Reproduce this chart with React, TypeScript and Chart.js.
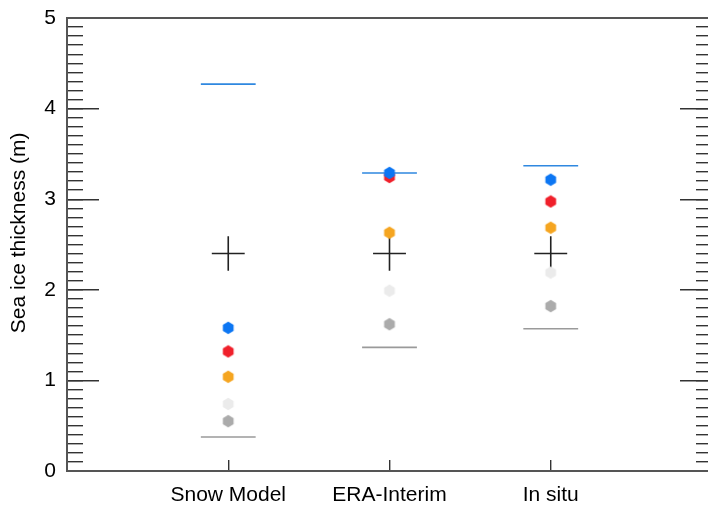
import React, { useEffect, useRef } from "react";
import { Chart, registerables } from "chart.js";

Chart.register(...registerables);

// ---- data ----
const categories = ["Snow Model", "ERA-Interim", "In situ"];
const categoryPositions = [1, 2, 3];
const blueValues = [1.58, 3.29, 3.215];
const redValues = [1.32, 3.245, 2.975];
const orangeValues = [1.04, 2.63, 2.685];
const lightGreyValues = [0.74, 1.99, 2.19];
const greyValues = [0.55, 1.62, 1.82];
const maxValues = [4.27, 3.29, 3.37];
const minValues = [0.375, 1.365, 1.57];
const meanValues = [2.4, 2.4, 2.4];
const meanSpread = [0.19, 0.19, 0.19];
const yMajorTicks = [0, 1, 2, 3, 4, 5];
const yTitle = "Sea ice thickness (m)";

const FONT = "'Liberation Sans', Arial, Helvetica, sans-serif";
const CANVAS_W = 740;
const CANVAS_H = 508;

function hexagon(color: string): HTMLCanvasElement {
  const c = document.createElement("canvas");
  c.width = 14;
  c.height = 14;
  const ctx = c.getContext("2d")!;
  ctx.fillStyle = color;
  ctx.beginPath();
  for (let k = 0; k < 6; k++) {
    const a = -Math.PI / 2 + (k * Math.PI) / 3;
    const px = 7 + 6.2 * Math.cos(a);
    const py = 7 + 6.2 * Math.sin(a);
    if (k === 0) ctx.moveTo(px, py);
    else ctx.lineTo(px, py);
  }
  ctx.closePath();
  ctx.fill();
  return c;
}

function pts(values: number[]) {
  return values.map((v, i) => ({ x: categoryPositions[i], y: v }));
}

function hSegments(values: number[], half: number) {
  const out: any[] = [];
  values.forEach((v, i) => {
    const c = categoryPositions[i];
    out.push({ x: c - half, y: v }, { x: c + half, y: v }, { x: c + half, y: null });
  });
  return out;
}

function vSegments(values: number[], spread: number[]) {
  const out: any[] = [];
  values.forEach((v, i) => {
    const c = categoryPositions[i];
    out.push({ x: c, y: v - spread[i] }, { x: c, y: v + spread[i] }, { x: c, y: null });
  });
  return out;
}

function fixSize(w: number | null, h: number | null) {
  return (s: any) => {
    if (w !== null) s.width = w;
    if (h !== null) s.height = h;
    s.paddingTop = 0;
    s.paddingBottom = 0;
    s.paddingLeft = 0;
    s.paddingRight = 0;
  };
}

export default function App() {
  const ref = useRef<HTMLCanvasElement | null>(null);

  useEffect(() => {
    if (!ref.current) return;
    const dot = (label: string, values: number[], color: string) => ({
      type: "scatter" as const,
      label,
      data: pts(values),
      pointStyle: hexagon(color),
      pointRadius: 6,
      pointHoverRadius: 6,
      showLine: false,
    });
    const seg = (label: string, data: any[], color: string, width: number) => ({
      type: "line" as const,
      label,
      data,
      borderColor: color,
      borderWidth: width,
      pointRadius: 0,
      pointHoverRadius: 0,
      showLine: true,
      spanGaps: false,
      fill: false,
    });

    const chart = new Chart(ref.current, {
      type: "scatter",
      data: {
        datasets: [
          dot("Blue", blueValues, "#0c76f3"),
          dot("Red", redValues, "#f0202b"),
          dot("Orange", orangeValues, "#f5a520"),
          dot("Light grey", lightGreyValues, "#ebebeb"),
          dot("Grey", greyValues, "#ababab"),
          seg("Mean h", hSegments(meanValues, 0.102), "#222222", 1.6),
          seg("Mean v", vSegments(meanValues, meanSpread), "#222222", 1.6),
          seg("Max", hSegments(maxValues, 0.17), "#2f88e0", 1.6),
          seg("Min", hSegments(minValues, 0.17), "#9a9a9a", 1.6),
        ] as any,
      },
      options: {
        responsive: false,
        animation: false,
        devicePixelRatio: 1,
        events: [],
        layout: { padding: 0 },
        plugins: {
          legend: { display: false },
          tooltip: { enabled: false },
        },
        scales: {
          x: {
            type: "linear",
            position: "bottom",
            min: 0,
            max: 4,
            afterBuildTicks: (s: any) => {
              s.ticks = categoryPositions.map((v) => ({ value: v }));
            },
            afterFit: fixSize(null, 37),
            ticks: {
              autoSkip: false,
              maxRotation: 0,
              padding: 23,
              color: "#000",
              font: { family: FONT, size: 21 },
              callback: (v: any) => {
                const i = categoryPositions.indexOf(Number(v));
                return i >= 0 ? categories[i] : "";
              },
            },
            grid: {
              drawOnChartArea: false,
              tickLength: -11,
              color: "#333",
              lineWidth: 1.4,
            },
            border: { display: true, color: "#555", width: 2 },
          },
          xTop: {
            type: "linear",
            position: "top",
            min: 0,
            max: 4,
            afterFit: fixSize(null, 18),
            ticks: { display: false },
            grid: { display: false },
            border: { display: true, color: "#555", width: 2 },
          },
          y: {
            type: "linear",
            position: "left",
            weight: 1,
            min: 0,
            max: 5,
            afterBuildTicks: (s: any) => {
              s.ticks = yMajorTicks.map((v) => ({ value: v }));
            },
            afterFit: fixSize(67, null),
            title: {
              display: true,
              text: "    " + yTitle,
              color: "#000",
              font: { family: FONT, size: 21 },
              padding: { top: 7, bottom: 0 },
            },
            ticks: {
              padding: 43,
              color: "#000",
              font: { family: FONT, size: 21 },
            },
            grid: {
              drawOnChartArea: false,
              tickLength: -32,
              color: "#333",
              lineWidth: 1.4,
            },
            border: { display: true, color: "#555", width: 2 },
          },
          yMinor: {
            type: "linear",
            position: "left",
            weight: 0,
            min: 0,
            max: 5,
            afterFit: fixSize(0, null),
            ticks: { display: false, stepSize: 0.1, autoSkip: false },
            grid: {
              drawOnChartArea: false,
              tickLength: -16,
              color: "#333",
              lineWidth: 1.4,
            },
            border: { display: false },
          },
          yRight: {
            type: "linear",
            position: "right",
            weight: 1,
            min: 0,
            max: 5,
            afterBuildTicks: (s: any) => {
              s.ticks = yMajorTicks.map((v) => ({ value: v }));
            },
            afterFit: fixSize(CANVAS_W - 712, null),
            ticks: { display: false },
            grid: {
              drawOnChartArea: false,
              tickLength: -32,
              color: "#333",
              lineWidth: 1.4,
            },
            border: { display: true, color: "#555", width: 2 },
          },
          yRightMinor: {
            type: "linear",
            position: "right",
            weight: 0,
            min: 0,
            max: 5,
            afterFit: fixSize(0, null),
            ticks: { display: false, stepSize: 0.1, autoSkip: false },
            grid: {
              drawOnChartArea: false,
              tickLength: -16,
              color: "#333",
              lineWidth: 1.4,
            },
            border: { display: false },
          },
        } as any,
      },
    });
    return () => chart.destroy();
  }, []);

  return (
    <div
      style={{
        position: "fixed",
        left: 0,
        top: 0,
        width: 708,
        height: 508,
        overflow: "hidden",
        background: "#fff",
      }}
    >
      <canvas
        ref={ref}
        width={CANVAS_W}
        height={CANVAS_H}
        style={{ display: "block", width: CANVAS_W, height: CANVAS_H }}
      />
    </div>
  );
}
